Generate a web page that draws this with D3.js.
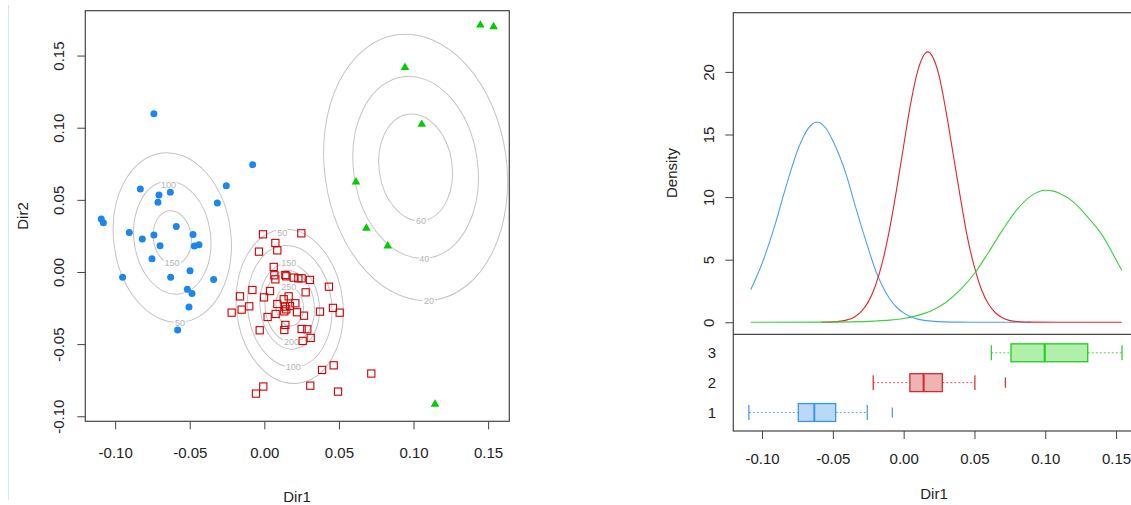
<!DOCTYPE html>
<html>
<head>
<meta charset="utf-8">
<script src="https://cdn.jsdelivr.net/npm/d3@7"></script>
<style>
  body { margin: 0; background: #fff; }
  text { font-family: "Liberation Sans", Arial, sans-serif; fill: #222; }
</style>
</head>
<body>
<svg id="chart" width="1131" height="505"></svg>
<script>
// scatter points, [Dir1, Dir2] per group
const group1 = [[-0.1093,0.0367],[-0.1079,0.0342],[-0.0950,-0.0037],[-0.0905,0.0273],[-0.0831,0.0575],
  [-0.0818,0.0229],[-0.0753,0.0092],[-0.0740,0.1097],[-0.0740,0.0256],[-0.0713,0.0483],[-0.0706,0.0533],
  [-0.0699,0.0182],[-0.0630,0.0552],[-0.0628,-0.0037],[-0.0590,0.0316],[-0.0581,-0.0402],[-0.0516,-0.0120],
  [-0.0485,-0.0150],[-0.0505,-0.0242],[-0.0498,0.0009],[-0.0478,0.0259],[-0.0469,0.0180],[-0.0438,0.0189],
  [-0.0340,-0.0053],[-0.0315,0.0478],[-0.0255,0.0598],[-0.0078,0.0744]];
const group2 = [[-0.0009,0.0261],[0.0248,0.0268],[0.0074,0.0201],[0.0087,0.0150],[-0.0036,0.0141],
  [0.0063,0.0035],[0.0067,-0.0023],[0.0074,-0.0051],[0.0141,-0.0021],[0.0147,-0.0030],[0.0197,-0.0039],
  [0.0228,-0.0044],[0.0250,-0.0044],[0.0306,-0.0055],[0.0433,-0.0102],[-0.0080,-0.0125],[0.0038,-0.0132],
  [0.0277,-0.0141],[-0.0163,-0.0169],[-0.0002,-0.0176],[0.0163,-0.0169],[0.0130,-0.0189],[0.0208,-0.0217],
  [0.0087,-0.0222],[0.0172,-0.0236],[-0.0101,-0.0238],[0.0460,-0.0249],[-0.0152,-0.0261],[0.0139,-0.0240],
  [0.0147,-0.0259],[0.0134,-0.0273],[0.0076,-0.0291],[0.0219,-0.0279],[0.0373,-0.0275],[0.0505,-0.0282],
  [-0.0219,-0.0282],[0.0022,-0.0312],[0.0266,-0.0303],[0.0141,-0.0367],[0.0134,-0.0402],[-0.0031,-0.0404],
  [0.0250,-0.0395],[0.0288,-0.0397],[0.0311,-0.0457],[0.0257,-0.0478],[0.0465,-0.0647],[0.0387,-0.0679],
  [0.0717,-0.0704],[0.0308,-0.0788],[-0.0007,-0.0794],[-0.0056,-0.0843],[0.0494,-0.0829]];
const group3 = [[0.1448,0.1711],[0.1537,0.1700],[0.0943,0.1418],[0.1055,0.1023],[0.0614,0.0624],
  [0.0684,0.0303],[0.0827,0.0180],[0.1144,-0.0917]];

// density contours (ellipses in data units)
const contourLevel = [50, 100, 150, 50, 100, 150, 200, 250, 20, 40, 60];
const contourCx = [-0.0617,-0.0617,-0.0617,0.017,0.017,0.017,0.017,0.017,0.1014,0.1014,0.1014];
const contourCy = [0.0238,0.0238,0.0238,-0.0238,-0.0238,-0.0238,-0.0238,-0.0238,0.0725,0.0725,0.0725];
const contourRx = [0.0393,0.0257,0.0127,0.0357,0.0282,0.0199,0.0165,0.0092,0.061,0.0416,0.0245];
const contourRy = [0.0591,0.0393,0.0187,0.0536,0.0423,0.0298,0.0249,0.0136,0.0928,0.0635,0.0372];
const contourTilt = [-7,-7,-7,-6,-6,-6,-6,-6,-8,-8,-8];
const labelX = [-0.0565,-0.0643,-0.0619,0.0121,0.0194,0.0163,0.0183,0.0163,0.1104,0.1072,0.1050];
const labelY = [-0.0356,0.0607,0.0060,0.0268,-0.0661,0.0060,-0.0487,-0.0102,-0.0201,0.0088,0.0356];

// densities along Dir1
const dens1X = [-0.108,-0.10,-0.095,-0.09,-0.085,-0.08,-0.075,-0.07,-0.065,-0.061,-0.055,-0.05,-0.045,-0.04,-0.035,-0.03,-0.025,-0.02,-0.015,-0.01,-0.005,0,0.005,0.01,0.02,0.03,0.04,0.06,0.09];
const dens1Y = [2.6,4.7,6.3,8.1,10.1,12.0,13.7,15.0,15.8,16.0,15.5,14.5,13.2,11.6,9.6,7.7,5.9,4.2,2.9,1.9,1.2,0.75,0.45,0.25,0.09,0.03,0.01,0,0];
const dens2X = [-0.0585,-0.05,-0.04,-0.035,-0.03,-0.025,-0.02,-0.015,-0.01,-0.005,0,0.005,0.01,0.017,0.02,0.025,0.03,0.035,0.04,0.045,0.05,0.055,0.06,0.065,0.07,0.08,0.09,0.11,0.154];
const dens2Y = [0,0.03,0.19,0.41,0.85,1.63,2.9,4.8,7.4,10.6,14.1,17.5,20.1,21.6,21.3,19.7,16.8,13.4,10.0,6.8,4.4,2.6,1.44,0.74,0.35,0.06,0.01,0,0];
const dens3X = [-0.108,-0.06,-0.03,-0.02,-0.01,0,0.01,0.02,0.03,0.04,0.05,0.06,0.07,0.08,0.09,0.1,0.105,0.11,0.12,0.13,0.14,0.15,0.154];
const dens3Y = [0,0.01,0.05,0.1,0.17,0.3,0.55,0.95,1.6,2.6,3.9,5.6,7.4,9.0,10.1,10.55,10.5,10.3,9.6,8.4,7.0,5.0,4.15];

// boxplot stats per group
const boxGroups = [1, 2, 3];
const boxLow = [-0.1093, -0.0215, 0.0619];
const boxQ1 = [-0.0744, 0.0044, 0.0758];
const boxMed = [-0.0631, 0.0141, 0.0996];
const boxQ3 = [-0.048, 0.0273, 0.130];
const boxHigh = [-0.0257, 0.0503, 0.1542];
const boxOut = [[-0.008], [0.0718], []];

const xTicks = [-0.10, -0.05, 0, 0.05, 0.10, 0.15];
const yTicksL = [-0.10, -0.05, 0, 0.05, 0.10, 0.15];
const yTicksD = [0, 5, 10, 15, 20];

const lineCol = ["#4ea1ef", "#e0262b", "#3dcf3d"];
const boxFill = ["#b9d9f7", "#f0b3b3", "#b1f0ab"];
const boxStroke = ["#3d95e8", "#d22a2a", "#22c822"];

const svg = d3.select("#chart");
const fmt = v => v.toFixed(2);

// faint edge line
svg.append("line").attr("x1", 8.5).attr("x2", 8.5).attr("y1", 5).attr("y2", 500)
  .attr("stroke", "#d3e3f2").attr("stroke-width", 1);

// ---------- left: scatter ----------
const xL = d3.scaleLinear().domain([-0.12, 0.1642]).range([85.3, 509.3]);
const yL = d3.scaleLinear().domain([-0.1035, 0.1811]).range([421.3, 10.7]);

const cont = svg.append("g");
contourLevel.forEach((lv, i) => {
  const cx = xL(contourCx[i]), cy = yL(contourCy[i]);
  cont.append("ellipse")
    .attr("cx", cx).attr("cy", cy)
    .attr("rx", xL(contourCx[i] + contourRx[i]) - cx)
    .attr("ry", cy - yL(contourCy[i] + contourRy[i]))
    .attr("transform", `rotate(${contourTilt[i]},${cx},${cy})`)
    .attr("fill", "none").attr("stroke", "#c4c4c4").attr("stroke-width", 1);
});
contourLevel.forEach((lv, i) => {
  cont.append("text")
    .attr("x", xL(labelX[i])).attr("y", yL(labelY[i])).attr("dy", "0.35em")
    .attr("text-anchor", "middle").style("font-size", "9px")
    .style("fill", "#b4b4b4").style("stroke", "#fff").style("stroke-width", 3)
    .style("paint-order", "stroke")
    .text(lv);
});

svg.append("g").selectAll("circle").data(group1).join("circle")
  .attr("cx", d => xL(d[0])).attr("cy", d => yL(d[1])).attr("r", 3.5)
  .attr("fill", "#1C86EE");
svg.append("g").selectAll("rect").data(group2).join("rect")
  .attr("x", d => xL(d[0]) - 3.6).attr("y", d => yL(d[1]) - 3.6)
  .attr("width", 7.2).attr("height", 7.2)
  .attr("fill", "none").attr("stroke", "#CD0000").attr("stroke-width", 1.1);
svg.append("g").selectAll("path").data(group3).join("path")
  .attr("d", d3.symbol(d3.symbolTriangle, 32))
  .attr("transform", d => `translate(${xL(d[0])},${yL(d[1])})`)
  .attr("fill", "#00CD00");

svg.append("rect").attr("x", 85.3).attr("y", 10.7).attr("width", 424).attr("height", 410.6)
  .attr("fill", "none").attr("stroke", "#444").attr("stroke-width", 1.2);

const axL = svg.append("g").attr("transform", "translate(0,421.3)")
  .call(d3.axisBottom(xL).tickValues(xTicks).tickFormat(fmt).tickSize(8).tickPadding(18));
axL.select(".domain").remove();
axL.selectAll("line").attr("stroke", "#444");
axL.selectAll("text").style("font-size", "15px").style("fill", "#222");

const ayL = svg.append("g").attr("transform", "translate(85.3,0)")
  .call(d3.axisLeft(yL).tickValues(yTicksL).tickFormat(fmt).tickSize(8));
ayL.select(".domain").remove();
ayL.selectAll("line").attr("stroke", "#444");
ayL.selectAll("text")
  .attr("x", null).attr("dy", null)
  .attr("text-anchor", "middle")
  .attr("transform", "translate(-21,0) rotate(-90)")
  .style("font-size", "15px").style("fill", "#222");

svg.append("text").attr("x", 297).attr("y", 502).attr("text-anchor", "middle")
  .style("font-size", "15px").text("Dir1");
svg.append("text").attr("transform", "translate(28,216) rotate(-90)").attr("text-anchor", "middle")
  .style("font-size", "15px").text("Dir2");

// ---------- right: densities + boxplots ----------
const xR = d3.scaleLinear().domain([-0.1203, 0.1645]).range([733.3, 1136.6]);
const yD = d3.scaleLinear().domain([-0.96, 24.73]).range([334.3, 12.7]);
const yB = d3.scaleLinear().domain([0.38, 3.62]).range([431, 334.3]);

const line = d3.line().x(d => xR(d[0])).y(d => yD(d[1])).curve(d3.curveMonotoneX);
[[dens1X, dens1Y], [dens2X, dens2Y], [dens3X, dens3Y]].forEach(([xs, ys], i) => {
  svg.append("path").datum(xs.map((x, j) => [x, ys[j]]))
    .attr("d", line).attr("fill", "none").attr("stroke", lineCol[i]).attr("stroke-width", 1.1);
});

const bx = svg.append("g");
boxGroups.forEach((g, i) => {
  const yc = yB(g);
  const hb = yc - yB(g + 0.3), hc = yc - yB(g + 0.25), ho = yc - yB(g + 0.17);
  bx.append("line").attr("x1", xR(boxLow[i])).attr("x2", xR(boxQ1[i])).attr("y1", yc).attr("y2", yc)
    .attr("stroke", boxStroke[i]).attr("stroke-dasharray", "2,2").attr("opacity", 0.8);
  bx.append("line").attr("x1", xR(boxQ3[i])).attr("x2", xR(boxHigh[i])).attr("y1", yc).attr("y2", yc)
    .attr("stroke", boxStroke[i]).attr("stroke-dasharray", "2,2").attr("opacity", 0.8);
  [boxLow[i], boxHigh[i]].forEach(v => {
    bx.append("line").attr("x1", xR(v)).attr("x2", xR(v)).attr("y1", yc - hc).attr("y2", yc + hc)
      .attr("stroke", boxStroke[i]).attr("stroke-width", 1.2);
  });
  bx.append("rect").attr("x", xR(boxQ1[i])).attr("y", yc - hb)
    .attr("width", xR(boxQ3[i]) - xR(boxQ1[i])).attr("height", 2 * hb)
    .attr("fill", boxFill[i]).attr("stroke", boxStroke[i]).attr("stroke-width", 1.3);
  bx.append("line").attr("x1", xR(boxMed[i])).attr("x2", xR(boxMed[i]))
    .attr("y1", yc - hb).attr("y2", yc + hb).attr("stroke", boxStroke[i]).attr("stroke-width", 2);
  boxOut[i].forEach(v => {
    bx.append("line").attr("x1", xR(v)).attr("x2", xR(v)).attr("y1", yc - ho).attr("y2", yc + ho)
      .attr("stroke", boxStroke[i]).attr("stroke-width", 1.2);
  });
  svg.append("text").attr("x", 716).attr("y", yc).attr("dy", "0.36em").attr("text-anchor", "end")
    .style("font-size", "15px").text(g);
});

svg.append("rect").attr("x", 733.3).attr("y", 12.7).attr("width", 410).attr("height", 418.3)
  .attr("fill", "none").attr("stroke", "#444").attr("stroke-width", 1.2);
svg.append("line").attr("x1", 733.3).attr("x2", 1140).attr("y1", 334.3).attr("y2", 334.3)
  .attr("stroke", "#444").attr("stroke-width", 1.2);

const axR = svg.append("g").attr("transform", "translate(0,431)")
  .call(d3.axisBottom(xR).tickValues(xTicks).tickFormat(fmt).tickSize(8).tickPadding(14));
axR.select(".domain").remove();
axR.selectAll("line").attr("stroke", "#444");
axR.selectAll("text").style("font-size", "15px").style("fill", "#222");

const ayR = svg.append("g").attr("transform", "translate(733.3,0)")
  .call(d3.axisLeft(yD).tickValues(yTicksD).tickSize(8));
ayR.select(".domain").remove();
ayR.selectAll("line").attr("stroke", "#444");
ayR.selectAll("text")
  .attr("x", null).attr("dy", null)
  .attr("text-anchor", "middle")
  .attr("transform", "translate(-19,0) rotate(-90)")
  .style("font-size", "15px").style("fill", "#222");

svg.append("text").attr("x", 934).attr("y", 499).attr("text-anchor", "middle")
  .style("font-size", "15px").text("Dir1");
svg.append("text").attr("transform", "translate(677,173) rotate(-90)").attr("text-anchor", "middle")
  .style("font-size", "15px").text("Density");
</script>
</body>
</html>
